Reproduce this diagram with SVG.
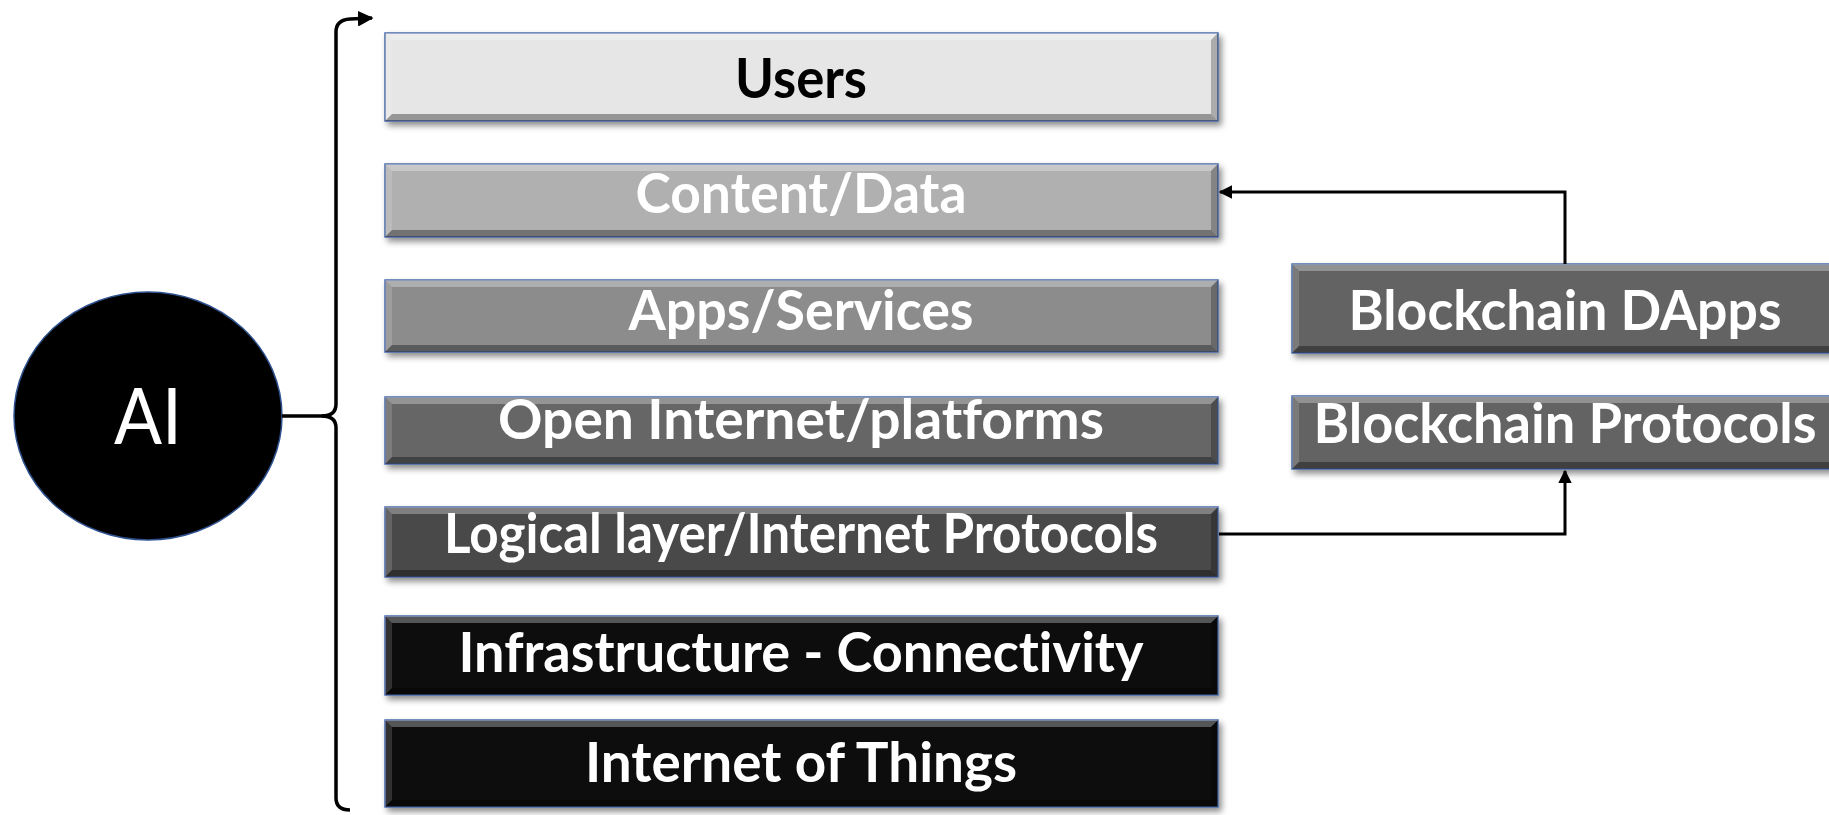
<svg xmlns="http://www.w3.org/2000/svg" width="1829" height="815" viewBox="0 0 1829 815">
<style>
.box{stroke:#4a6aa8;stroke-width:1.5}
.hl{fill:#ffffff;opacity:0.3}
.hl2{fill:#ffffff;opacity:0.15}
.sh{fill:#000000;opacity:0.25}
.sh2{fill:#000000;opacity:0.35}
.lbl{font-family:Lato,"Open Sans",sans-serif;font-weight:bold;font-size:56px;text-anchor:middle;fill:#ffffff;font-variant-ligatures:none;font-feature-settings:"liga" 0,"clig" 0}
.conn{fill:none;stroke:#000000;stroke-width:3}
.brace{fill:none;stroke:#000000;stroke-width:3.5}
</style>
<defs>
<filter id="ds" x="-5%" y="-20%" width="110%" height="150%">
<feDropShadow dx="3" dy="4" stdDeviation="3" flood-color="#000" flood-opacity="0.45"/>
</filter>
<marker id="ah" viewBox="0 0 10 10" refX="9" refY="5" markerWidth="4.5" markerHeight="4.5" orient="auto" markerUnits="strokeWidth">
<path d="M0,0 L10,5 L0,10 z" fill="#000"/>
</marker>
</defs>

<g id="ai">
<ellipse cx="148" cy="416" rx="134" ry="124" fill="#000" stroke="#2f528f" stroke-width="1.5"/>
<text x="148" y="444" font-family="Lato,'Open Sans',sans-serif" font-size="78" text-anchor="middle" fill="#fff" textLength="68" lengthAdjust="spacingAndGlyphs">AI</text>
</g>

<g id="users">
<rect class="box" x="385" y="33" width="833" height="88" fill="#e6e6e6" filter="url(#ds)"/>
<polygon class="hl" points="385,33 1218,33 1211,40 392,40"/>
<polygon class="hl2" points="385,33 392,40 392,114 385,121"/>
<polygon class="sh" points="1218,33 1218,121 1211,114 1211,40"/>
<polygon class="sh2" points="385,121 392,114 1211,114 1218,121"/>
<text class="lbl" x="801" y="98" style="fill:#000" textLength="132" lengthAdjust="spacingAndGlyphs">Users</text>
</g>

<g id="content">
<rect class="box" x="385" y="164" width="833" height="73" fill="#b0b0b0" filter="url(#ds)"/>
<polygon class="hl" points="385,164 1218,164 1211,171 392,171"/>
<polygon class="hl2" points="385,164 392,171 392,230 385,237"/>
<polygon class="sh" points="1218,164 1218,237 1211,230 1211,171"/>
<polygon class="sh2" points="385,237 392,230 1211,230 1218,237"/>
<text class="lbl" x="801" y="213" textLength="331" lengthAdjust="spacingAndGlyphs">Content/Data</text>
</g>

<g id="apps">
<rect class="box" x="385" y="280" width="833" height="72" fill="#8c8c8c" filter="url(#ds)"/>
<polygon class="hl" points="385,280 1218,280 1211,287 392,287"/>
<polygon class="hl2" points="385,280 392,287 392,345 385,352"/>
<polygon class="sh" points="1218,280 1218,352 1211,345 1211,287"/>
<polygon class="sh2" points="385,352 392,345 1211,345 1218,352"/>
<text class="lbl" x="801" y="330" textLength="345" lengthAdjust="spacingAndGlyphs">Apps/Services</text>
</g>

<g id="open">
<rect class="box" x="385" y="397" width="833" height="67" fill="#666666" filter="url(#ds)"/>
<polygon class="hl" points="385,397 1218,397 1211,404 392,404"/>
<polygon class="hl2" points="385,397 392,404 392,457 385,464"/>
<polygon class="sh" points="1218,397 1218,464 1211,457 1211,404"/>
<polygon class="sh2" points="385,464 392,457 1211,457 1218,464"/>
<text class="lbl" x="801" y="439" textLength="606" lengthAdjust="spacingAndGlyphs">Open Internet/platforms</text>
</g>

<g id="logical">
<rect class="box" x="385" y="507" width="833" height="70" fill="#4a4a4a" filter="url(#ds)"/>
<polygon class="hl" points="385,507 1218,507 1211,514 392,514"/>
<polygon class="hl2" points="385,507 392,514 392,570 385,577"/>
<polygon class="sh" points="1218,507 1218,577 1211,570 1211,514"/>
<polygon class="sh2" points="385,577 392,570 1211,570 1218,577"/>
<text class="lbl" x="801" y="553" textLength="714" lengthAdjust="spacingAndGlyphs">Logical layer/Internet Protocols</text>
</g>

<g id="infra">
<rect class="box" x="385" y="616" width="833" height="79" fill="#0a0a0a" filter="url(#ds)"/>
<polygon class="hl" points="385,616 1218,616 1211,623 392,623"/>
<polygon class="hl2" points="385,616 392,623 392,688 385,695"/>
<polygon class="sh" points="1218,616 1218,695 1211,688 1211,623"/>
<polygon class="sh2" points="385,695 392,688 1211,688 1218,695"/>
<text class="lbl" x="801" y="672" textLength="685" lengthAdjust="spacingAndGlyphs">Infrastructure - Connectivity</text>
</g>

<g id="iot">
<rect class="box" x="385" y="720" width="833" height="87" fill="#0a0a0a" filter="url(#ds)"/>
<polygon class="hl" points="385,720 1218,720 1211,727 392,727"/>
<polygon class="hl2" points="385,720 392,727 392,800 385,807"/>
<polygon class="sh" points="1218,720 1218,807 1211,800 1211,727"/>
<polygon class="sh2" points="385,807 392,800 1211,800 1218,807"/>
<text class="lbl" x="801" y="782" textLength="432" lengthAdjust="spacingAndGlyphs">Internet of Things</text>
</g>

<g id="dapps">
<rect class="box" x="1292" y="264" width="560" height="89" fill="#636363" filter="url(#ds)"/>
<polygon class="hl" points="1292,264 1852,264 1845,271 1299,271"/>
<polygon class="hl2" points="1292,264 1299,271 1299,346 1292,353"/>
<polygon class="sh2" points="1292,353 1299,346 1845,346 1852,353"/>
<text class="lbl" x="1565" y="330" textLength="433" lengthAdjust="spacingAndGlyphs">Blockchain DApps</text>
</g>

<g id="bprotocols">
<rect class="box" x="1292" y="396" width="560" height="73" fill="#636363" filter="url(#ds)"/>
<polygon class="hl" points="1292,396 1852,396 1845,403 1299,403"/>
<polygon class="hl2" points="1292,396 1299,403 1299,462 1292,469"/>
<polygon class="sh2" points="1292,469 1299,462 1845,462 1852,469"/>
<text class="lbl" x="1565" y="443" textLength="503" lengthAdjust="spacingAndGlyphs">Blockchain Protocols</text>
</g>

<g id="connectors">
<path class="brace" d="M282,416 L322,416 Q336,416 336,404 L336,32 Q336,20 350,19 L372,18" marker-end="url(#ah)"/>
<path class="brace" d="M322,416 Q336,416 336,428 L336,798 Q336,810 350,810"/>
<path class="conn" d="M1565,264 L1565,192 L1220,192" marker-end="url(#ah)"/>
<path class="conn" d="M1219,534 L1565,534 L1565,471" marker-end="url(#ah)"/>
</g>
</svg>
